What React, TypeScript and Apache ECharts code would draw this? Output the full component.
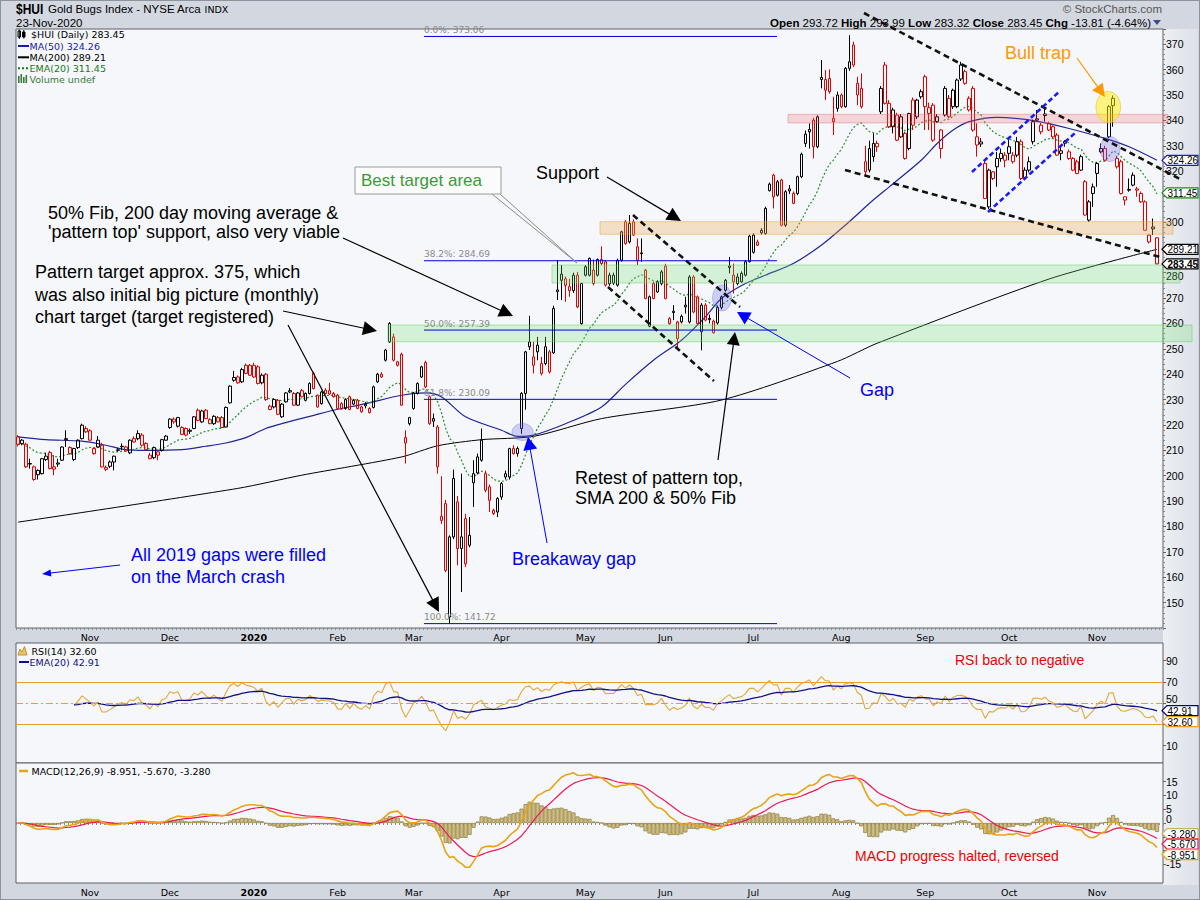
import React, { useEffect, useRef } from "react";
import * as echarts from "echarts";

// Daily candles, [open, high, low, close]
const candlesOct2019Dec2019: number[][] = [
  [215.3,216,211.5,212.4],[212.7,214.5,212,214],[212.4,213,203,203.5],[204.6,206.7,202.8,204.8],[203.5,204,198,198.5],
  [200.4,202.5,198.5,202.1],[200.8,207,200.5,206.7],[206.4,209.1,205.8,207.7],[209.1,209.8,202.5,202.8],[203.5,208.1,200.2,202.6],
  [205,206.7,203.5,204.6],[206.1,211.6,205.8,211.3],[214.6,217.9,211.3,214.2],[211.1,211.6,208.4,208.7],[206.4,211,205.8,210.7],
  [211.1,214.3,210.5,214],[214.6,220.5,214.3,219.9],[218.6,219.5,216.8,217.3],[217.7,218.3,213.8,214],[208.7,211,208.3,210.7],
  [211.3,215.6,211,214],[212,213,203.2,203.5],[202.5,204,201.8,203.3],[203.7,206,203,205.4],[205.4,207.9,202.1,207.7],
  [210.2,211,209.5,210],[211.4,212.7,210,211.6],[211.3,211.8,209.5,209.8],[209,214.3,208.5,214],[214.6,215.5,213,213.3],
  [214.6,217.9,214,216.6],[216,216.8,211.5,212],[212.7,213.2,210,210.3],[208.1,209,206.5,206.7],[207.1,211.5,206.5,211.1],
  [209.4,210,206.1,208.1],[210,214.5,209.5,214.2],[214,216,213.8,215.6],[219,222.6,218.5,222.3],[222.3,223,220.5,221.2],
  [219.5,223.2,219,222.9],[219,219.5,216,216.3],[218.6,219,215.5,216],[217.9,218.6,216.5,217.5],[218.6,223.5,218.3,223.2],
  [225.8,226.5,221.5,221.8],[221.2,226,220.8,225.5],[225.8,226.3,222.3,222.5],[222.1,222.6,220.3,220.5],[220.5,223.8,220,223.4],
  [222.9,223.5,221,221.2],[222.9,223.5,218.8,219],[219.2,227.3,219,226.9],[228.7,235.6,228.4,235.3],[237.6,241.3,237,238.7],
  [238.9,239.5,236.2,236.6],[237,242.5,236.5,241.8],[243.5,244.2,240,240.3],[243.5,244,239.3,239.6]
];
const candlesJan2020Mar2020: number[][] = [
  [243.5,244.5,238.5,238.9],[242.9,243.5,236,236.3],[236.6,240.3,236,239.6],[240,240.5,229.5,230],[227.4,228,225.8,226.1],
  [227.1,230.5,226.5,230],[229.7,230.2,223.9,224.2],[223.2,228.6,222.8,228.2],[229.1,233,228.8,232.6],[233.5,234.5,232.5,233],
  [232.4,233,227.5,227.8],[227.8,233,227.5,232.6],[233.5,234.2,230.8,231.1],[229.7,232.8,229.3,232.4],[232.4,236.8,232,236.3],
  [240.3,241,234,234.3],[227.1,232,226.8,231.7],[228.4,233.5,228,233],[233.7,234.5,232,232.4],[233.5,236.6,231.8,232.2],
  [232.4,233,230.8,231.1],[231.7,232.2,226.2,226.5],[228.4,229,226,226.3],[226.5,230.5,226,230],[231.1,231.6,225.8,226.1],
  [228.2,230.2,227.8,229.7],[229.7,230.3,226.2,226.5],[227.1,227.6,224.8,225.2],[228.2,229,226.5,227.5],[226.5,227,224.5,224.9],
  [226.9,235.5,226.5,235],[237,240.5,236.5,240],[240,240.8,238.5,238.9],[245.5,250,245,249.5],[260,260.5,252.3,252.7],
  [254.7,256,245,245.5],[243.5,245.2,243,244.9],[247.9,248.5,227.5,227.8],[212.9,217.9,204.8,215],[220.5,223.2,219.8,222.9],
  [226.5,233,226,232.6],[232.4,236.8,232,236.3],[238.9,243.3,238.5,242.9],[244.6,245.3,234.5,235],[231.1,231.6,220,220.5],
  [222.5,224.5,219.2,221.5],[219.2,220,200.8,203.5],[184,199.8,181,182.4],[189,190.5,162,162.7],[144.3,176.5,141.7,175.9],
  [175.9,202.4,175,198.9],[189.7,192,164.7,171.3],[171.3,200.8,154.2,175.9],[183.1,185,164,165.3],[172.6,183.7,171.8,176.5],
  [197.2,206.1,187.7,200.8],[201.1,208.7,200.5,207.4],[206.1,218.6,205.5,214],[200.8,202,193.5,194.3],[195.6,196.5,185.7,190.3],
  [186.4,187,184.5,185.1],[185.7,191.6,183.7,191]
];
const candlesApr2020Jun2020: number[][] = [
  [191.6,197.5,190.5,196.9],[200.8,202,198.5,199.5],[199.5,211,198.5,210.7],[210.7,212,208.3,208.7],[208.7,211.5,207.5,210.7],
  [218.6,233,216.5,232.4],[232.4,249.2,226,248.8],[252.7,263,249.5,250.8],[246.8,252.7,240.3,243.5],[248.8,254.7,245.5,251.4],
  [240.3,246.8,239.5,244.2],[244.2,254.7,243.5,250.8],[240.9,249.5,240.3,248.8],[248.4,267,248,265.9],[273.2,285,269.2,272.5],
  [279.4,283,269.2,277],[277.6,278.5,268.5,275],[272.9,277.6,270.5,274.5],[272.9,280,272,279],[279,280.3,266,266.5],
  [259.9,276,259.5,275.7],[279,283,278.5,282.3],[279,286,278.5,285.6],[281,285.2,275,275.7],[279,285.6,278.5,285.2],
  [285.2,290.4,283,283.6],[284.3,285,274.5,275.1],[279,280,274.8,275.6],[279,280,275.2,275.9],[275.1,285.5,274.5,284.9],
  [284.9,296.5,284.3,296.1],[300,300.7,291,291.5],[292.1,302.7,291.5,299.4],[300,301,294.5,294.8],[290.2,293.5,283,284.9],
  [287.8,293.5,284.3,287.5],[281,281.5,269.5,269.8],[258.9,271,258.5,270.5],[275.7,276.5,269.5,269.8],[276.4,277,272,272.4],
  [275.7,281,275,280.3],[282.6,283.5,269.5,269.8],[261.9,262.5,259.5,259.9],[264.8,267.2,261.3,264.3],[254,261,250.7,260.6],
  [260.6,263.5,260,262.8],[267.2,270.5,263.9,266.5],[260.6,279,260,278.3],[278.3,279,264,264.5],[270.5,271,259.5,259.9],
  [256.7,268,249.4,267.2],[267.2,268,260.8,261.3],[262,263.5,260,261.5],[260.9,261.5,256,256.3],[260.2,267,259.5,266.3],
  [266.3,271,265.5,270.5],[273.1,277.5,272.5,277],[282.6,286.2,279.7,282],[279,283.6,271.8,276.4],[275.7,279.7,275,278.3],
  [276.4,280.5,276,279.7],[279,285,278.5,284.3],[284.3,295,284,294.4]
];
const candlesJul2020Sep2020: number[][] = [
  [288,295.5,287.5,294.8],[292.1,293,290.5,290.8],[295.7,297.5,295,296.7],[295.4,306,295,305.3],[312.3,315.5,312,314.9],
  [318.4,319,305.3,309.9],[315.8,316.5,310,310.5],[316.5,317,298.2,298.7],[298.7,312.5,298,311.9],[313,314.5,311,312.2],
  [311.2,312,307,307.3],[311.2,318.2,310.5,317.8],[317.8,327.3,317.2,326.7],[334.6,336,329.5,330.9],[335.5,338.8,328.9,336.4],
  [340.1,341,325,329.6],[329.6,342,329,341.4],[356.1,363.8,352.6,356.9],[356.1,359.8,348,351.9],[356.5,360.1,350.5,351.3],
  [340.8,349.3,334.2,339.5],[344.7,351.3,343.4,350],[350,350.6,344.8,345.4],[345.4,361,345,360.5],[360.5,373.6,359.5,363.1],
  [369.7,371,361,361.8],[354.6,357.2,346,350],[352.6,358.5,344.7,345.4],[323.7,330,318,319.7],[328.9,332,319.5,320.4],
  [325.7,334.9,323.7,330.9],[330.9,332,327.6,329.6],[343.4,353.5,342.5,352.6],[361.8,363,346.2,346.7],[346.7,348,337,337.5],
  [337.5,345,334.9,344.1],[342.1,343,331.8,332.2],[341.4,342.5,333,333.5],[334.9,335.5,324.5,325],[328.9,343,328.2,342.7],
  [348,349,336.2,338.1],[341.4,348.5,340.5,348],[349.3,352.2,348.5,351.3],[357.2,358,336.2,345.4],[342.7,347,336.2,345],
  [346,346.8,331.5,332.2],[341.4,342.5,339,339.5],[328.9,336.5,325,336.2],[342.1,353.5,341.5,352.6],[348.7,350,341,341.4],
  [345.4,352.5,344.5,351.9],[345.4,356.5,344.8,355.9],[361.8,363.1,355.5,356.3],[359.2,360,354,354.6],[344.1,349.5,343.5,348.7],
  [352.6,353.5,335.5,336.2],[333.5,338.8,325.7,330.3],[331.5,333,329.5,330.7],[323,324,309,309.2],[305.9,321,305,320.4],
  [317.1,320,316.5,319.7],[321.7,327.6,313.8,325],[325,328.9,323.7,327],[324.3,327.5,321.5,326.3]
];
const candlesOct2020Nov2020: number[][] = [
  [327,333.5,324.3,329.6],[326.3,327.5,323,323.7],[326.3,333.5,325.5,331.6],[331.6,332.5,316.5,317.1],[320.4,321.5,316.5,317.5],
  [320.4,325.7,319.5,323.7],[331.6,340.3,330.5,339.5],[340.6,344.1,339.5,340.1],[335.5,339,334.5,338.1],[342.5,344.7,339.5,341.9],
  [338.8,339.5,335.8,336.2],[337.5,338,333,333.5],[334.2,335,326,326.3],[327,330.3,324.3,328],[331.6,332.2,329.6,331],
  [327.6,328.5,324.5,325],[325,325.5,320,320.4],[323.7,324.5,318.8,319.1],[320.4,326.5,320,325.7],[315.8,316.5,302.5,302.7],
  [300.7,308.6,300,307.9],[311.2,315.1,305.9,313.8],[319.1,323.5,313.8,323],[327.6,330.9,327,328.9],[328.9,330,323.8,324.3],
  [333.5,346,333,345.4],[348.7,349.8,337.5,345.8],[325,326,321,321.7],[323.7,324.5,310.8,311.2],[308.6,310,306.5,309.9],
  [312.8,317.1,311.9,312.5],[318.4,319.5,314,314.5],[313,313.8,309.9,312.5],[311.2,312,307.5,307.9],[307.9,308.5,296.5,296.7],
  [292.1,295,291.5,294.8],[298,301.3,294.8,297.26],[293.72,293.99,283.32,283.45]
];

// first trading day of each month (category index) and its label
const monthTicks: [number, string][] = [
  [18, "Nov"], [38, "Dec"], [59, "2020"], [80, "Feb"], [99, "Mar"], [121, "Apr"], [142, "May"],
  [162, "Jun"], [184, "Jul"], [206, "Aug"], [227, "Sep"], [248, "Oct"], [270, "Nov"]
];

// moving averages, [day index, value]
const ma50Points: [number, number][] = [
  [0, 215.3], [7, 214.2], [16, 213.6], [22, 212], [27, 210.3], [32, 210], [41, 210.3], [47, 211.6], [52, 212.9],
  [57, 215], [62, 218.6], [66, 220.5], [70, 222.2], [74, 223.8], [79, 225.8], [87, 228.4], [96, 231.7], [102, 232.6],
  [106, 231], [112, 223.2], [121, 217.9], [125, 215.5], [129, 216], [137, 220.5], [146, 227.1], [152, 236], [159, 245.5],
  [166, 253.4], [172, 262.6], [176, 269.8], [182, 275.7], [187, 279], [194, 283.6], [201, 290.8], [207, 298.7],
  [214, 308.6], [218, 313.8], [226, 324.3], [230, 330.9], [234, 336.2], [238, 339.5], [245, 341.2], [252, 340.4],
  [257, 339], [263, 336.8], [272, 332.9], [278, 329.6], [285, 324.3]
];
const ma200Points: [number, number][] = [
  [0, 181.7], [55, 195], [71, 200.2], [96, 207.4], [105, 211.8], [116, 214.2], [129, 215.5], [146, 222.5],
  [176, 229.8], [205, 245], [215, 252.2], [258, 277.5], [285, 289.2]
];

const fibLevels: [string, number][] = [["0.0%", 373.06], ["38.2%", 284.69], ["50.0%", 257.39], ["61.8%", 230.09], ["100.0%", 141.72]];
const priceTags: [number, string, boolean][] = [[324.26, "#1a1acc", false], [311.45, "#1a8a1a", false], [289.21, "#000000", false], [283.45, "#000000", true]];
const rsiTags: [number, string][] = [[42.91, "#000080"], [32.6, "#e0a020"]];
const macdTags: [number, string][] = [[-3.28, "#c9b060"], [-5.67, "#ee1155"], [-8.951, "#e8a317"]];
const rsiTickValues = [10, 30, 50, 70, 90];
const macdTickValues = [-15, -10, -5, 0, 5, 10, 15];
// axis labels that sit under the value tags in the reference, and labels nudged beside a tag
const hiddenPriceLabels = [310, 290];
const hiddenRsiLabels = [30];
const hiddenMacdLabels = [-5, -10];
const nudgedDown = [280];
const nudgedUp = [50, 0];

const candles = [...candlesOct2019Dec2019, ...candlesJan2020Mar2020, ...candlesApr2020Jun2020, ...candlesJul2020Sep2020, ...candlesOct2020Nov2020];
const closes = candles.map((c) => c[3]);
const N = candles.length + 1;

function ema(values: (number | null)[], n: number) {
  const k = 2 / (n + 1);
  let prev: number | null = null;
  return values.map((v) => {
    if (v == null) return null;
    prev = prev == null ? v : v * k + prev * (1 - k);
    return prev;
  });
}
function rsiCalc(c: number[], n: number) {
  const out: (number | null)[] = c.map(() => null);
  let ag = 0, al = 0;
  for (let i = 1; i < c.length; i++) {
    const ch = c[i] - c[i - 1];
    const g = Math.max(ch, 0), l = Math.max(-ch, 0);
    if (i <= n) {
      ag += g / n; al += l / n;
      if (i === n) out[i] = al === 0 ? 100 : 100 - 100 / (1 + ag / al);
    } else {
      ag = (ag * (n - 1) + g) / n; al = (al * (n - 1) + l) / n;
      out[i] = al === 0 ? 100 : 100 - 100 / (1 + ag / al);
    }
  }
  return out;
}
function sparse(points: [number, number][]) {
  const arr: (number | null)[] = new Array(N).fill(null);
  points.forEach(([i, v]) => (arr[i] = v));
  return arr;
}

const ema20 = ema(closes, 20);
const rsi = rsiCalc(closes, 14);
const rsiEma = ema(rsi, 20);
const e12 = ema(closes, 12), e26 = ema(closes, 26);
const macd = closes.map((_, i) => (e12[i] as number) - (e26[i] as number));
const signal = ema(macd, 9);
const hist = macd.map((m, i) => m - (signal[i] as number));

const cats = Array.from({ length: N }, (_, i) => String(i));
const tickMap = new Map<number, string>(monthTicks);
const BG = "#f5f7fa";
const LS = "Liberation Sans";
const DV = "DejaVu Sans";

function xAxis(gridIndex: number, labels: boolean) {
  return {
    type: "category", gridIndex, data: cats, boundaryGap: true,
    axisLine: { show: false },
    axisTick: { show: labels, interval: 0, length: 2, lineStyle: { color: "#8a8f99", width: 1 } },
    axisLabel: {
      show: labels, margin: 4, fontSize: 9.5, fontFamily: DV, color: "#000",
      interval: (idx: number) => tickMap.has(idx),
      formatter: (v: string) => {
        const l = tickMap.get(Number(v)) || "";
        return l === "2020" ? "{b|2020}" : l;
      },
      rich: { b: { fontWeight: "bold", fontSize: 9.5, fontFamily: DV, color: "#000" } },
    },
    splitLine: { show: false },
  };
}
const has = (arr: number[], v: number) => arr.some((h) => Math.abs(h - v) < 1e-6);
const yLabel = {
  fontSize: 10.5, fontFamily: LS, color: "#000", margin: 3,
  rich: {
    dn: { fontSize: 10.5, fontFamily: LS, color: "#000", padding: [7, 0, 0, 0] },
    up: { fontSize: 10.5, fontFamily: LS, color: "#000", padding: [0, 0, 8, 0] },
  },
};
const fmt = (hidden: number[]) => (v: number) => {
  if (has(hidden, v)) return "";
  if (has(nudgedDown, v)) return `{dn|${v}}`;
  if (has(nudgedUp, v)) return `{up|${v}}`;
  return String(v);
};

function buildOption(): any {
  const candleData = candles.map((c, i) => {
    const prev = i > 0 ? candles[i - 1][3] : c[0];
    const col = c[3] >= prev ? "#000000" : "#e00000";
    return {
      value: [c[0], c[3], c[2], c[1]],
      itemStyle: { color: "transparent", color0: col, borderColor: col, borderColor0: col, borderColorDoji: col },
    };
  });
  const grids = [
    { left: 16, top: 29, width: 1147, height: 599 },
    { left: 16, top: 643, width: 1147, height: 120 },
    { left: 16, top: 763, width: 1147, height: 120 },
  ].map((g) => ({ ...g, show: true, backgroundColor: BG, borderColor: "#5c6068", borderWidth: 1, containLabel: false }));
  return {
    animation: false,
    grid: grids,
    xAxis: [xAxis(0, true), xAxis(1, false), xAxis(2, true)],
    yAxis: [
      {
        type: "value", gridIndex: 0, position: "right", min: 140, max: 376, interval: 10,
        axisLine: { show: false }, splitLine: { show: false },
        axisTick: { show: true, length: 3, lineStyle: { color: "#666" } },
        minorTick: { show: true, splitNumber: 5, length: 2, lineStyle: { color: "#888" } },
        axisLabel: { ...yLabel, showMinLabel: false, showMaxLabel: false, formatter: fmt(hiddenPriceLabels) },
      },
      {
        type: "value", gridIndex: 1, position: "right", min: -6.3, max: 106.6,
        axisLine: { show: false }, splitLine: { show: false },
        axisTick: { show: true, length: 3, customValues: rsiTickValues, lineStyle: { color: "#666" } },
        axisLabel: { ...yLabel, customValues: rsiTickValues, formatter: fmt(hiddenRsiLabels) },
      },
      {
        type: "value", gridIndex: 2, position: "right", min: -21.8, max: 21.8,
        axisLine: { show: false }, splitLine: { show: false },
        axisTick: { show: true, length: 3, customValues: macdTickValues, lineStyle: { color: "#666" } },
        axisLabel: { ...yLabel, customValues: macdTickValues, formatter: fmt(hiddenMacdLabels) },
      },
    ],
    series: [
      {
        type: "line", name: "MA200", xAxisIndex: 0, yAxisIndex: 0, data: sparse(ma200Points), connectNulls: true,
        smooth: 0.25, showSymbol: false, lineStyle: { color: "#000", width: 1 }, z: 2,
      },
      {
        type: "line", name: "MA50", xAxisIndex: 0, yAxisIndex: 0, data: sparse(ma50Points), connectNulls: true,
        smooth: 0.3, showSymbol: false, lineStyle: { color: "#23239a", width: 1.2 }, z: 2,
      },
      {
        type: "line", name: "EMA20", xAxisIndex: 0, yAxisIndex: 0, data: ema20, showSymbol: false,
        lineStyle: { color: "#2f8f2f", width: 1.2, type: [2, 2] }, z: 2,
      },
      {
        type: "candlestick", name: "$HUI", xAxisIndex: 0, yAxisIndex: 0, data: candleData, barWidth: 3,
        itemStyle: { borderWidth: 1 }, z: 3,
      },
      {
        type: "line", name: "RSI", xAxisIndex: 1, yAxisIndex: 1, data: rsi, showSymbol: false,
        lineStyle: { color: "#e3a83a", width: 1.1 },
        markLine: {
          silent: true, symbol: "none", label: { show: false },
          data: [
            { yAxis: 70, lineStyle: { color: "#e3a02a", width: 1, type: "solid" } },
            { yAxis: 30, lineStyle: { color: "#e3a02a", width: 1, type: "solid" } },
            { yAxis: 50, lineStyle: { color: "#e3a02a", width: 1, type: [7, 3, 2, 3] } },
          ],
        },
      },
      {
        type: "line", name: "RSI EMA", xAxisIndex: 1, yAxisIndex: 1, data: rsiEma, showSymbol: false,
        lineStyle: { color: "#10108a", width: 1.3 },
      },
      {
        type: "bar", name: "Hist", xAxisIndex: 2, yAxisIndex: 2, data: hist, barCategoryGap: "0%",
        itemStyle: { color: "#cfbe84", borderColor: "#8c7c3c", borderWidth: 0.7 },
      },
      {
        type: "line", name: "Signal", xAxisIndex: 2, yAxisIndex: 2, data: signal, showSymbol: false,
        lineStyle: { color: "#f0185a", width: 1.2 },
      },
      {
        type: "line", name: "MACD", xAxisIndex: 2, yAxisIndex: 2, data: macd, showSymbol: false,
        lineStyle: { color: "#e8a317", width: 1.6 },
      },
    ],
  };
}

function buildGraphics(chart: any) {
  const yp = (axis: number, v: number) => chart.convertToPixel({ yAxisIndex: axis }, v) as number;
  const els: any[] = [];
  const text = (x: number, y: number, t: string, o: any = {}) =>
    els.push({
      type: "text", x, y, z: o.z ?? 60, scaleX: o.scaleX ?? 1,
      style: {
        text: t, fill: o.color ?? "#000", fontSize: o.size ?? 18, fontFamily: o.family ?? LS,
        fontWeight: o.weight ?? "normal", align: o.align ?? "left", verticalAlign: "middle", rich: o.rich,
      },
    });
  const line = (x1: number, y1: number, x2: number, y2: number, stroke: string, lw = 1, dash?: number[], z = 50) =>
    els.push({ type: "line", z, shape: { x1, y1, x2, y2 }, style: { stroke, lineWidth: lw, lineDash: dash } });
  const arrow = (x1: number, y1: number, x2: number, y2: number, color: string, lw = 1.2, hl = 12, hw = 5.5) => {
    const dx = x2 - x1, dy = y2 - y1, L = Math.hypot(dx, dy), ux = dx / L, uy = dy / L;
    const bx = x2 - ux * hl, by = y2 - uy * hl;
    line(x1, y1, bx + ux * 2, by + uy * 2, color, lw);
    els.push({
      type: "polygon", z: 51,
      shape: { points: [[x2, y2], [bx - uy * hw, by + ux * hw], [bx + uy * hw, by - ux * hw]] },
      style: { fill: color },
    });
  };
  const rect = (x: number, y: number, w: number, h: number, fill: string, stroke: string, z = 10) =>
    els.push({ type: "rect", z, shape: { x, y, width: w, height: h }, style: { fill, stroke, lineWidth: 1 } });
  const ell = (cx: number, cy: number, rx: number, ry: number, fill: string, stroke: string) =>
    els.push({ type: "ellipse", z: 12, shape: { cx, cy, rx, ry }, style: { fill, stroke, lineWidth: 1 } });

  // header
  text(16, 9, "$HUI", { size: 15, weight: "bold", scaleX: 0.8 });
  text(48, 9, "Gold Bugs Index - NYSE Arca {i|INDX}", {
    size: 11.5, rich: { i: { fontSize: 9.5, fontFamily: DV, fill: "#000", color: "#000" } },
  });
  text(16, 23, "23-Nov-2020", { size: 11.5 });
  text(1162, 9, "\u00a9 StockCharts.com", { size: 11.5, color: "#555", align: "right" });
  text(1151, 22.5,
    "{b|Open} 293.72 {b|High} 293.99 {b|Low} 283.32 {b|Close} 283.45 {b|Chg} -13.81 (-4.64%)",
    { size: 11.5, align: "right", rich: { b: { fontWeight: "bold", fontSize: 11.5, fontFamily: LS } } });
  els.push({ type: "polygon", z: 60, shape: { points: [[1153, 20], [1161, 20], [1157, 25]] }, style: { fill: "#3b4c8c" } });

  // price legend
  els.push({ type: "rect", z: 60, shape: { x: 18, y: 31, width: 2.5, height: 6 }, style: { fill: "none", stroke: "#000", lineWidth: 1 } });
  els.push({ type: "rect", z: 60, shape: { x: 22.5, y: 32, width: 2.5, height: 5 }, style: { fill: "#000", stroke: "#000", lineWidth: 1 } });
  line(19.3, 29.5, 19.3, 39, "#000", 1, undefined, 59);
  line(23.8, 30, 23.8, 38.5, "#000", 1, undefined, 59);
  text(31, 34.7, "$HUI (Daily) 283.45", { size: 9.5, family: DV });
  line(18, 46, 29, 46, "#1a1aaa", 2);
  text(29.5, 46, "MA(50) 324.26", { size: 9.5, family: DV, color: "#1a1aaa" });
  line(18, 57.3, 29, 57.3, "#000", 2);
  text(29.5, 57.3, "MA(200) 289.21", { size: 9.5, family: DV });
  line(18, 68.3, 29, 68.3, "#1a7a1a", 2, [2, 2]);
  text(29.5, 68.3, "EMA(20) 311.45", { size: 9.5, family: DV, color: "#1a7a1a" });
  [[18, 76], [20.5, 74], [23, 77], [25.5, 75]].forEach(([x, y]) =>
    els.push({ type: "rect", z: 60, shape: { x, y, width: 1.6, height: 83 - y }, style: { fill: "#3a7a3a" } }));
  text(29.5, 79.3, "Volume undef", { size: 9.5, family: DV, color: "#3a7a3a" });

  // RSI legend
  els.push({ type: "polygon", z: 60, shape: { points: [[18, 655], [20, 649], [22, 652], [24.5, 646.5], [27, 655]] }, style: { fill: "#e3c27a", stroke: "#c8961e", lineWidth: 1 } });
  text(31.5, 651, "RSI(14) 32.60", { size: 9.5, family: DV });
  line(19, 662, 29, 662, "#10108a", 2);
  text(29.5, 662, "EMA(20) 42.91", { size: 9.5, family: DV, color: "#10108a" });
  // MACD legend
  line(19, 771, 28, 771, "#e8a317", 2.5);
  text(31.5, 771, "MACD(12,26,9) {o|-8.951,} {r|-5.670,} {t|-3.280}", {
    size: 9.5, family: DV,
    rich: {
      o: { color: "#e8a317", fontSize: 9.5, fontFamily: DV },
      r: { color: "#ee1155", fontSize: 9.5, fontFamily: DV },
      t: { color: "#d2bb6e", fontSize: 9.5, fontFamily: DV },
    },
  });

  // bands (semi-transparent, over the candles)
  rect(388, 325, 804, 16.7, "rgba(110,225,110,0.25)", "rgba(90,200,90,0.45)");
  rect(552, 265, 628, 18, "rgba(110,225,110,0.25)", "rgba(90,200,90,0.45)");
  rect(600, 221.7, 573, 12.5, "rgba(240,170,80,0.30)", "rgba(235,160,60,0.5)");
  rect(788, 114.3, 380, 8.6, "rgba(240,90,100,0.22)", "rgba(230,100,110,0.4)");

  // fib retracement lines
  fibLevels.forEach(([pct, v]) => {
    const y = yp(0, v);
    line(424, y, 777, y, "#0000e0", 1, undefined, 40);
    text(424, y - 6.5, `${pct}: ${v.toFixed(2)}`, { size: 9, family: DV, color: "#8a8a8a", z: 41 });
  });

  // highlight ellipses
  ell(522.5, 432, 10.5, 8.5, "rgba(100,100,235,0.28)", "rgba(100,100,235,0.35)");
  ell(722, 298, 9.5, 13, "rgba(100,100,235,0.28)", "rgba(100,100,235,0.35)");
  ell(1110, 149, 10, 12.5, "rgba(100,100,235,0.28)", "rgba(100,100,235,0.35)");
  ell(1108.3, 107, 12.3, 15.5, "rgba(255,240,0,0.5)", "rgba(240,200,60,0.7)");

  // trend lines
  line(864, 13, 1180, 179, "#111", 2.6, [6, 4], 45);
  line(845, 170, 1162, 257.5, "#111", 2.6, [6, 4], 45);
  line(633, 215, 740, 307, "#111", 2.6, [6, 4], 45);
  line(608, 287, 714, 381, "#111", 2.6, [6, 4], 45);
  line(972, 172, 1060, 91, "#1a1aff", 2.6, [5, 3], 45);
  line(988, 212, 1075, 133, "#1a1aff", 2.6, [5, 3], 45);

  // callout: best target area
  line(492, 194, 577, 263, "#8a8a8a", 1);
  line(500, 194, 577, 263, "#8a8a8a", 1);
  els.push({ type: "rect", z: 55, shape: { x: 355, y: 167, width: 146, height: 27 }, style: { fill: "#fbfbfb", stroke: "#9a9a9a", lineWidth: 1 } });
  text(361, 180.5, "Best target area", { size: 17, color: "#3a9a3a" });

  // annotations
  text(536, 173, "Support", { size: 18 });
  arrow(607, 177, 681, 221, "#000", 1.2, 14, 7);
  text(48, 213, "50% Fib, 200 day moving average &", { size: 18 });
  text(48, 232, "'pattern top' support, also very viable", { size: 18 });
  arrow(343, 238, 513, 316, "#000", 1.2, 14, 7);
  text(35, 272, "Pattern target approx. 375, which", { size: 18 });
  text(35, 295, "was also initial big picture (monthly)", { size: 18 });
  text(35, 317, "chart target (target registered)", { size: 18 });
  arrow(283, 311, 377, 331, "#000", 1.2, 14, 7);
  arrow(288, 325, 439, 612, "#000", 1.2, 14, 7);
  text(131, 555, "All 2019 gaps were filled", { size: 18, color: "#0000ff" });
  text(131, 577, "on the March crash", { size: 18, color: "#0000ff" });
  arrow(120, 565, 42, 574, "#0000ff", 1, 9, 3.5);
  text(512, 559, "Breakaway gap", { size: 18, color: "#0000ff" });
  arrow(547, 543, 528, 437, "#0000ff", 1, 13, 7);
  text(860, 390, "Gap", { size: 18, color: "#0000ff" });
  arrow(850, 378, 737, 312, "#0000ff", 1, 13, 7);
  text(575, 478, "Retest of pattern top,", { size: 18 });
  text(575, 498, "SMA 200 & 50% Fib", { size: 18 });
  arrow(718, 460, 735, 332, "#000", 1.2, 13, 6.5);
  text(1005, 53, "Bull trap", { size: 18, color: "#ff9900" });
  arrow(1077, 58, 1105, 97, "#ff9900", 1.2, 13, 6.5);
  text(955, 660, "RSI back to negative", { size: 14, color: "#ee0000" });
  text(855, 856, "MACD progress halted, reversed", { size: 14, color: "#ee0000" });

  // value tags on the right axes
  const tag = (y: number, label: string, color: string, bold = false) => {
    const x0 = 1162, x1 = 1198;
    els.push({
      type: "polygon", z: 70,
      shape: { points: [[x0, y], [x0 + 5, y - 5], [x1, y - 5], [x1, y + 5], [x0 + 5, y + 5]] },
      style: { fill: "#ffffff", stroke: color, lineWidth: 1.2 },
    });
    text(x0 + 5.5, y + 0.5, label, { size: 10, weight: bold ? "bold" : "normal", z: 71 });
  };
  const spread = (items: { y: number; label: string; color: string; bold?: boolean }[], gap: number) => {
    items.sort((a, b) => a.y - b.y);
    for (let i = 1; i < items.length; i++) if (items[i].y < items[i - 1].y + gap) items[i].y = items[i - 1].y + gap;
    items.forEach((it) => tag(it.y, it.label, it.color, it.bold));
  };
  spread(priceTags.map(([v, c, b]) => ({ y: yp(0, v), label: v.toFixed(2), color: c, bold: b })), 12);
  spread(rsiTags.map(([v, c]) => ({ y: yp(1, v), label: v.toFixed(2), color: c })), 11);
  spread(macdTags.map(([v, c]) => ({ y: yp(2, v) + 1.5, label: v.toFixed(3), color: c })), 10.5);

  return { elements: els };
}

export default function App() {
  const ref = useRef<HTMLDivElement>(null);
  useEffect(() => {
    if (!ref.current) return;
    const chart = echarts.init(ref.current, null, { renderer: "svg" });
    chart.setOption(buildOption());
    chart.setOption({ graphic: buildGraphics(chart) });
    return () => chart.dispose();
  }, []);
  return (
    <div style={{ position: "fixed", left: 0, top: 0, width: 1200, height: 900, background: "#d3d8e0", boxSizing: "border-box", border: "1px solid #8e949e", overflow: "hidden" }}>
      <div style={{ position: "absolute", left: 1162, top: 28, width: 35, height: 856, background: "linear-gradient(to right, #eceff3, #dde1e8)" }} />
      <div ref={ref} style={{ position: "absolute", left: -1, top: -1, width: 1200, height: 900 }} />
    </div>
  );
}
